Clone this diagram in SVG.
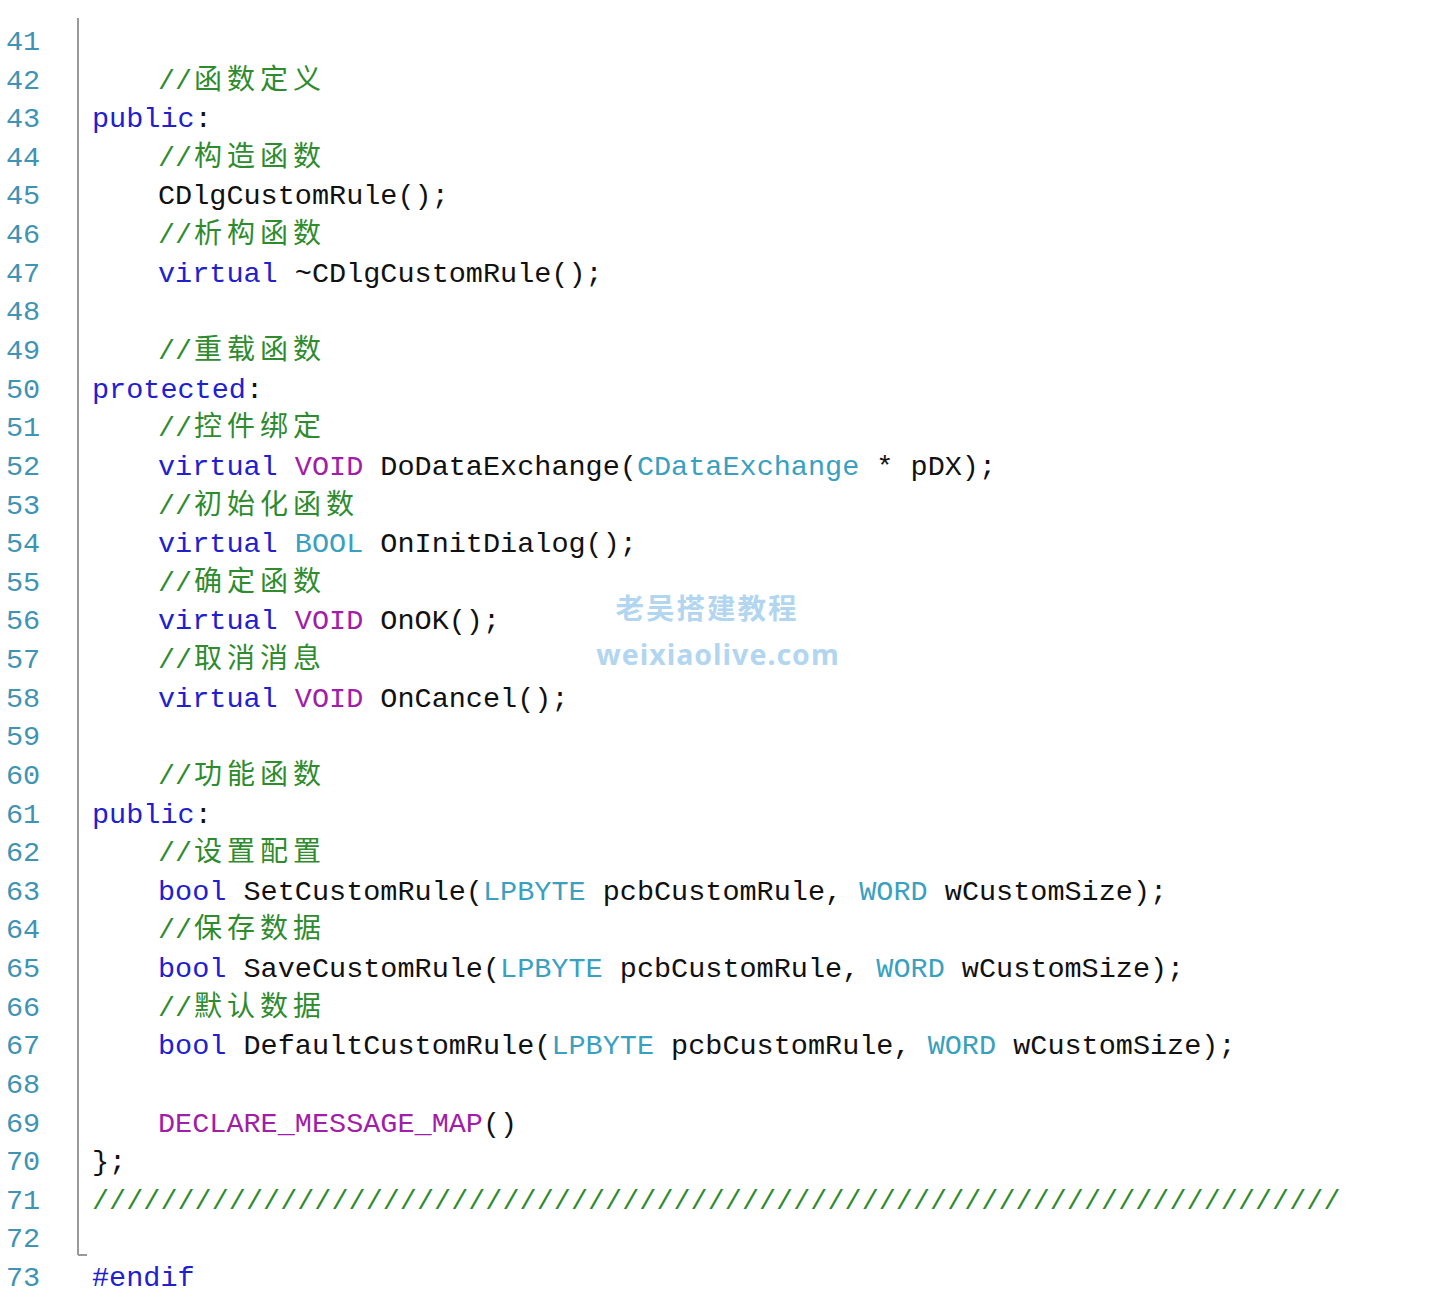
<svg xmlns="http://www.w3.org/2000/svg" width="1436" height="1312" viewBox="0 0 1436 1312">
<style>
text{font-family:"Liberation Mono","Noto Sans CJK SC",monospace;font-size:28.5px;white-space:pre}
.n{fill:#3f93b3}.k{fill:#2020d0}.p{fill:#a01ea8}.t{fill:#3aa0c0}.c{fill:#2e8b2e}.d{fill:#111}
.cj{font-family:"Noto Sans CJK SC",sans-serif;font-size:28px;letter-spacing:5px}
.w{font-family:"Noto Sans","Noto Sans CJK SC",sans-serif;font-weight:bold;fill:#b2d6f0}
</style>
<rect width="1436" height="1312" fill="#fff"/>
<g id="gutter">
<line x1="78" y1="18" x2="78" y2="1255" stroke="#999" stroke-width="2"/>
<line x1="78" y1="1255" x2="87" y2="1255" stroke="#999" stroke-width="2"/>
<text class="n" x="6" y="50">41</text><text class="n" x="6" y="89">42</text><text class="n" x="6" y="127">43</text><text class="n" x="6" y="166">44</text><text class="n" x="6" y="204">45</text><text class="n" x="6" y="243">46</text><text class="n" x="6" y="282">47</text><text class="n" x="6" y="320">48</text><text class="n" x="6" y="359">49</text><text class="n" x="6" y="398">50</text><text class="n" x="6" y="436">51</text><text class="n" x="6" y="475">52</text><text class="n" x="6" y="514">53</text><text class="n" x="6" y="552">54</text><text class="n" x="6" y="591">55</text><text class="n" x="6" y="629">56</text><text class="n" x="6" y="668">57</text><text class="n" x="6" y="707">58</text><text class="n" x="6" y="745">59</text><text class="n" x="6" y="784">60</text><text class="n" x="6" y="823">61</text><text class="n" x="6" y="861">62</text><text class="n" x="6" y="900">63</text><text class="n" x="6" y="938">64</text><text class="n" x="6" y="977">65</text><text class="n" x="6" y="1016">66</text><text class="n" x="6" y="1054">67</text><text class="n" x="6" y="1093">68</text><text class="n" x="6" y="1132">69</text><text class="n" x="6" y="1170">70</text><text class="n" x="6" y="1209">71</text><text class="n" x="6" y="1247">72</text><text class="n" x="6" y="1286">73</text>
</g>
<g id="code">
<text class="c" x="158" y="89">//<tspan class="cj" x="194">函数定义</tspan></text>
<text class="k" x="92" y="127">public<tspan class="d">:</tspan></text>
<text class="c" x="158" y="166">//<tspan class="cj" x="194">构造函数</tspan></text>
<text class="d" x="158" y="204">CDlgCustomRule();</text>
<text class="c" x="158" y="243">//<tspan class="cj" x="194">析构函数</tspan></text>
<text class="k" x="158" y="282">virtual <tspan class="d">~CDlgCustomRule();</tspan></text>
<text class="c" x="158" y="359">//<tspan class="cj" x="194">重载函数</tspan></text>
<text class="k" x="92" y="398">protected<tspan class="d">:</tspan></text>
<text class="c" x="158" y="436">//<tspan class="cj" x="194">控件绑定</tspan></text>
<text class="k" x="158" y="475">virtual <tspan class="p">VOID</tspan><tspan class="d"> DoDataExchange(</tspan><tspan class="t">CDataExchange</tspan><tspan class="d"> * pDX);</tspan></text>
<text class="c" x="158" y="514">//<tspan class="cj" x="194">初始化函数</tspan></text>
<text class="k" x="158" y="552">virtual <tspan class="t">BOOL</tspan><tspan class="d"> OnInitDialog();</tspan></text>
<text class="c" x="158" y="591">//<tspan class="cj" x="194">确定函数</tspan></text>
<text class="k" x="158" y="629">virtual <tspan class="p">VOID</tspan><tspan class="d"> OnOK();</tspan></text>
<text class="c" x="158" y="668">//<tspan class="cj" x="194">取消消息</tspan></text>
<text class="k" x="158" y="707">virtual <tspan class="p">VOID</tspan><tspan class="d"> OnCancel();</tspan></text>
<text class="c" x="158" y="784">//<tspan class="cj" x="194">功能函数</tspan></text>
<text class="k" x="92" y="823">public<tspan class="d">:</tspan></text>
<text class="c" x="158" y="861">//<tspan class="cj" x="194">设置配置</tspan></text>
<text class="k" x="158" y="900">bool <tspan class="d">SetCustomRule(</tspan><tspan class="t">LPBYTE</tspan><tspan class="d"> pcbCustomRule, </tspan><tspan class="t">WORD</tspan><tspan class="d"> wCustomSize);</tspan></text>
<text class="c" x="158" y="938">//<tspan class="cj" x="194">保存数据</tspan></text>
<text class="k" x="158" y="977">bool <tspan class="d">SaveCustomRule(</tspan><tspan class="t">LPBYTE</tspan><tspan class="d"> pcbCustomRule, </tspan><tspan class="t">WORD</tspan><tspan class="d"> wCustomSize);</tspan></text>
<text class="c" x="158" y="1016">//<tspan class="cj" x="194">默认数据</tspan></text>
<text class="k" x="158" y="1054">bool <tspan class="d">DefaultCustomRule(</tspan><tspan class="t">LPBYTE</tspan><tspan class="d"> pcbCustomRule, </tspan><tspan class="t">WORD</tspan><tspan class="d"> wCustomSize);</tspan></text>
<text class="p" x="158" y="1132">DECLARE_MESSAGE_MAP<tspan class="d">()</tspan></text>
<text class="d" x="92" y="1170">};</text>
<text class="c" x="92" y="1209">/////////////////////////////////////////////////////////////////////////</text>
<text class="k" x="92" y="1286">#endif</text>
</g>
<g id="watermark">
<text class="w" x="707" y="619" text-anchor="middle" font-size="28" letter-spacing="2">老吴搭建教程</text>
<text class="w" x="718" y="665" text-anchor="middle" font-size="32" letter-spacing="1">weixiaolive.com</text>
</g>
</svg>
